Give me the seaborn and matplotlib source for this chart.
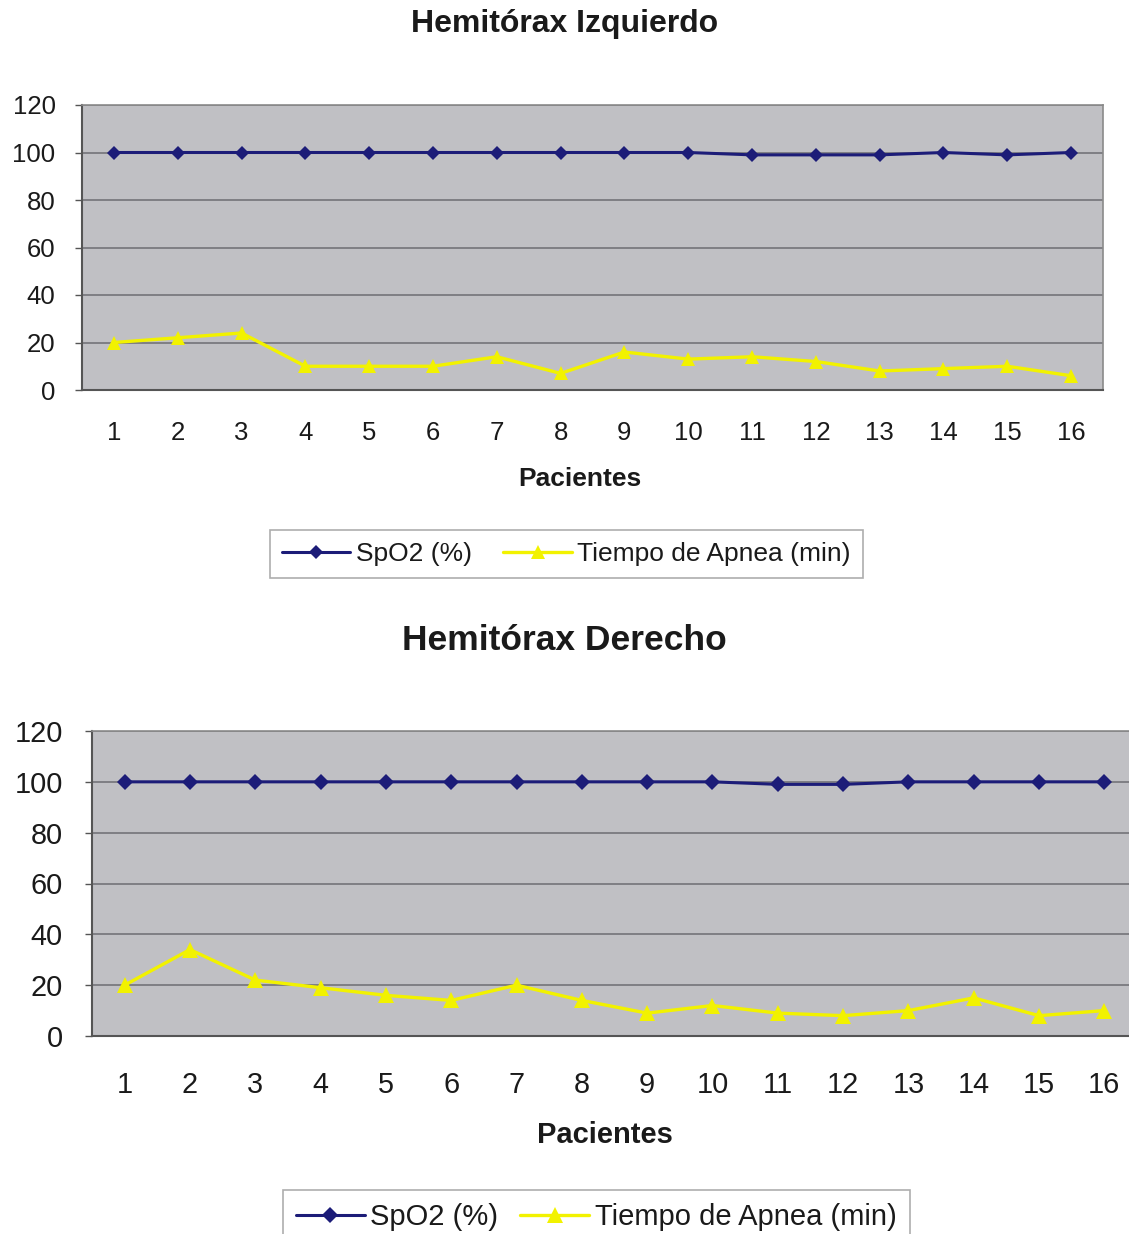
import matplotlib
matplotlib.use("Agg")
import matplotlib.pyplot as plt
import seaborn as sns
import pandas as pd
import numpy as np

pacientes = list(range(1, 17))
izq_spo2 = [100, 100, 100, 100, 100, 100, 100, 100, 100, 100, 99, 99, 99, 100, 99, 100]
izq_apnea = [20, 22, 24, 10, 10, 10, 14, 7, 16, 13, 14, 12, 8, 9, 10, 6]
der_spo2 = [100, 100, 100, 100, 100, 100, 100, 100, 100, 100, 99, 99, 100, 100, 100, 100]
der_apnea = [20, 34, 22, 19, 16, 14, 20, 14, 9, 12, 9, 8, 10, 15, 8, 10]
yticks = [0, 20, 40, 60, 80, 100, 120]
series_names = ["SpO2 (%)", "Tiempo de Apnea (min)"]
titles = ["Hemitórax Izquierdo", "Hemitórax Derecho"]

sns.set_theme(style="white")
plt.rcParams['font.family'] = ['Liberation Sans', 'DejaVu Sans']

NAVY = "#1c1c78"
YELLOW = "#f2f200"
BG = "#c0c0c4"
GRID = "#7f7f84"
TEXT = "#1a1a1a"

fig = plt.figure(figsize=(11.29, 12.34), dpi=100)
W, H = 1129, 1234

def px_axes(l, t, r, b):
    return fig.add_axes([l / W, 1 - b / H, (r - l) / W, (b - t) / H])

configs = [
    dict(box=(82, 105, 1103, 390), spo2=izq_spo2, apnea=izq_apnea, title=titles[0],
         title_y=24, title_size=23, tick_size=18.5, xpad=22.5, ypad=14, lab_size=19,
         leg_box=(270, 530), leg_size=19, colsp=1.2, hlen=2.6, xlab_x=580, xlab_y=479, scale=1.0),
    dict(box=(92, 731, 1137, 1036), spo2=der_spo2, apnea=der_apnea, title=titles[1],
         title_y=640, title_size=25.5, tick_size=20.8, xpad=25, ypad=16, lab_size=21,
         leg_box=(283, 1190), leg_size=21, colsp=0.75, hlen=2.35, xlab_x=605, xlab_y=1135, scale=1.1),
]

for cfg in configs:
    ax = px_axes(*cfg["box"])
    df = pd.DataFrame({
        "Paciente": pacientes * 2,
        "Valor": cfg["spo2"] + cfg["apnea"],
        "Serie": [series_names[0]] * 16 + [series_names[1]] * 16,
    })
    sns.lineplot(data=df[df.Serie == series_names[0]], x="Paciente", y="Valor", ax=ax,
                 color=NAVY, marker="D", markersize=7.5 * cfg["scale"], markeredgewidth=0,
                 linewidth=2.2, label=series_names[0], zorder=5)
    sns.lineplot(data=df[df.Serie == series_names[1]], x="Paciente", y="Valor", ax=ax,
                 color=YELLOW, marker="^", markersize=10.5 * cfg["scale"], markeredgewidth=0,
                 linewidth=2.4, label=series_names[1], zorder=5)
    ax.set_facecolor(BG)
    ax.set_xlim(0.5, 16.5)
    ax.set_ylim(0, 120)
    ax.set_yticks(yticks)
    ax.set_yticklabels([str(v) for v in yticks], fontsize=cfg["tick_size"], color=TEXT)
    for v in yticks[1:]:
        ax.axhline(v, color=GRID, linewidth=1.4, zorder=1)
    ax.set_xticks(pacientes)
    ax.set_xticklabels([str(p) for p in pacientes], fontsize=cfg["tick_size"], color=TEXT)
    ax.set_xticks(np.arange(0.5, 17, 1), minor=True)
    ax.tick_params(axis="x", which="major", length=0, pad=cfg["xpad"])
    ax.tick_params(axis="x", which="minor", length=6, color="#555555", width=1, direction="out")
    ax.tick_params(axis="y", which="major", length=5, color="#555555", width=1, direction="out",
                   pad=cfg["ypad"], left=True)
    for s in ["left", "bottom"]:
        ax.spines[s].set_color("#555555")
        ax.spines[s].set_linewidth(1.5)
    for s in ["top", "right"]:
        ax.spines[s].set_color("#8a8a8a")
        ax.spines[s].set_linewidth(1.2)
    ax.set_xlabel("")
    ax.set_ylabel("")
    ax.get_legend().remove()
    fig.text(0.5, 1 - cfg["title_y"] / H, cfg["title"], ha="center", va="center",
             fontsize=cfg["title_size"], fontweight="bold", color=TEXT)
    fig.text(cfg["xlab_x"] / W, 1 - cfg["xlab_y"] / H, "Pacientes",
             ha="center", va="center", fontsize=cfg["lab_size"], fontweight="bold", color=TEXT)
    l, t = cfg["leg_box"]
    handles, labels = ax.get_legend_handles_labels()
    leg = fig.legend(handles, labels, loc="upper left", bbox_to_anchor=(l / W, 1 - t / H),
                     ncol=2, frameon=True, fancybox=False, fontsize=cfg["leg_size"],
                     handlelength=cfg["hlen"], columnspacing=cfg["colsp"], handletextpad=0.2,
                     borderpad=0.45, borderaxespad=0)
    leg.get_frame().set_edgecolor("#999999")
    leg.get_frame().set_linewidth(1.2)
    for txt in leg.get_texts():
        txt.set_color(TEXT)

fig.savefig("out.png", dpi=100, facecolor="white")
